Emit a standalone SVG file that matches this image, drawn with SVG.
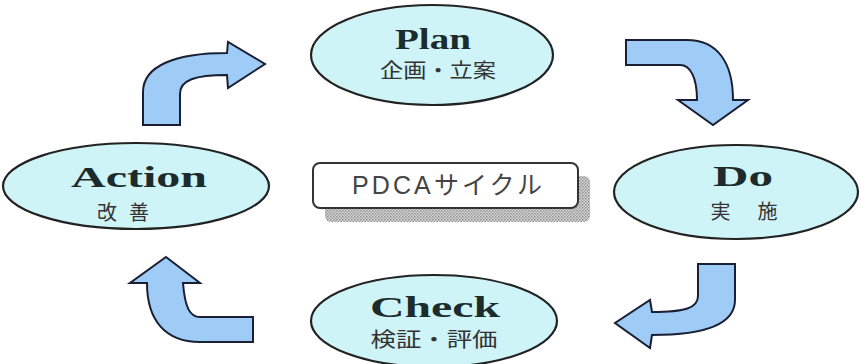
<svg xmlns="http://www.w3.org/2000/svg" width="861" height="364" viewBox="0 0 861 364">
<defs>
<pattern id="dither" width="3" height="3" patternUnits="userSpaceOnUse">
<rect width="3" height="3" fill="#d8d8d8"/>
<rect width="1.5" height="1.5" fill="#8f8f8f"/>
<rect x="1.5" y="1.5" width="1.5" height="1.5" fill="#a0a0a0"/>
</pattern>
</defs>
<style>
.node ellipse{fill:#cff4f7;stroke:#222;stroke-width:2.2}
.en{font-family:"Liberation Serif","DejaVu Serif",serif;font-weight:bold;font-size:29px;fill:#1c2b2b;text-anchor:middle}
.jp{font-family:"Noto Sans CJK JP","Noto Sans CJK SC",sans-serif;font-size:20px;fill:#333;text-anchor:middle}
.arrow{fill:#9fccf7;stroke:#1a1f33;stroke-width:2;stroke-linejoin:miter}
.title{font-family:"Liberation Sans","Noto Sans CJK JP",sans-serif;font-size:25px;fill:#444;text-anchor:middle}
</style>
<rect width="861" height="364" fill="#fff"/>
<g id="connectors">
<path class="arrow" d="M143,125 L143,92 C143,66 175,53 227,53 L228,42 L265,64 L228,88 L227,75 C195,75 180,80 180,94 L180,125 Z"/>
<path class="arrow" d="M626,40 L687,40 C717,40 733,62 733,100 L748,100 L713,125 L678,100 L697,100 C697,77 690,65 680,65 L626,65 Z"/>
<path class="arrow" d="M698,264 L735,264 L735,300 C735,326 702,335 652,335 L650,348 L615,323 L650,300 L652,312 C685,312 698,308 698,296 Z"/>
<path class="arrow" d="M166,257 L200,283 L183,283 C185,308 190,317 200,317 L253,317 L253,342 L200,342 C165,342 147,320 147,283 L130,283 Z"/>
</g>
<g id="plan" class="node">
<ellipse cx="432" cy="55" rx="121" ry="50"/>
<text class="en" x="433" y="49" textLength="76" lengthAdjust="spacingAndGlyphs">Plan</text>
<text class="jp" x="438" y="78" textLength="116" lengthAdjust="spacingAndGlyphs">企画・立案</text>
</g>
<g id="do" class="node">
<ellipse cx="736" cy="192" rx="122" ry="47"/>
<text class="en" x="743" y="186" textLength="60" lengthAdjust="spacingAndGlyphs">Do</text>
<text class="jp" x="744" y="219" textLength="67" lengthAdjust="spacing">実 施</text>
</g>
<g id="check" class="node">
<ellipse cx="434" cy="321" rx="123" ry="46"/>
<text class="en" x="435" y="317" textLength="130" lengthAdjust="spacingAndGlyphs">Check</text>
<text class="jp" x="434" y="347" textLength="127" lengthAdjust="spacingAndGlyphs">検証・評価</text>
</g>
<g id="action" class="node">
<ellipse cx="136" cy="186" rx="133" ry="43"/>
<text class="en" x="139" y="187" textLength="136" lengthAdjust="spacingAndGlyphs">Action</text>
<text class="jp" x="123" y="220" textLength="52" lengthAdjust="spacing">改 善</text>
</g>
<g id="title">
<rect x="325" y="176" width="265" height="46" rx="6" fill="url(#dither)"/>
<rect x="313" y="163" width="265" height="45" rx="7" fill="#fff" stroke="#333" stroke-width="2"/>
<text class="title" x="447" y="194" textLength="190" lengthAdjust="spacing">PDCAサイクル</text>
</g>
</svg>
